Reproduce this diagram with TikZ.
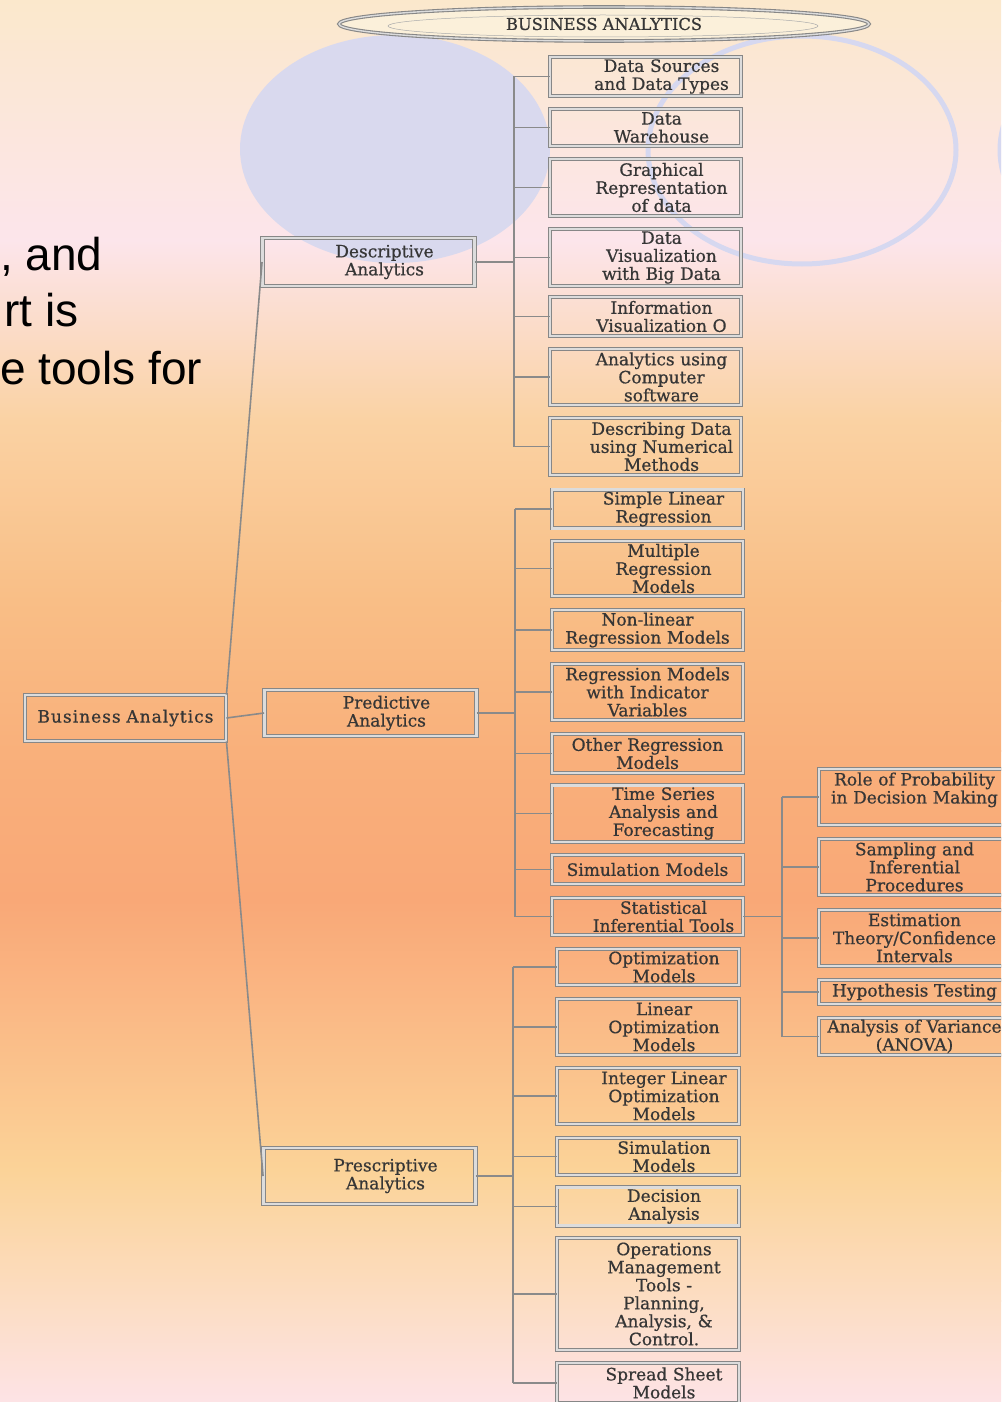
\documentclass[tikz,border=0pt]{standalone}
\usepackage{fontspec}
\setmainfont{DejaVu Serif}[FakeBold=0.7]
\newfontfamily\slidefont{Liberation Sans}
\usetikzlibrary{shapes.geometric}

\definecolor{bg0}{HTML}{FBE8CC}
\definecolor{bg1}{HTML}{FCE5EB}
\definecolor{bg2}{HTML}{FAD2A3}
\definecolor{bg3}{HTML}{F9BE86}
\definecolor{bg4}{HTML}{F9B07B}
\definecolor{bg5}{HTML}{F9A877}
\definecolor{bg6}{HTML}{FAB784}
\definecolor{bg7}{HTML}{FBD398}
\definecolor{bg8}{HTML}{FCDDC3}
\definecolor{bg9}{HTML}{FDE3E6}
\definecolor{lilac}{HTML}{D9D9EE}
\definecolor{lilacline}{HTML}{D6D8F0}
\definecolor{boxline}{HTML}{878787}
\definecolor{boxband}{HTML}{DCDCDC}
\definecolor{inktext}{HTML}{363636}
\definecolor{wiregray}{HTML}{8A8A8A}
\definecolor{titlefill}{HTML}{FBF0DA}

\tikzset{
  box/.style={draw=boxline, line width=0.9pt, double=boxband, double distance=2.4pt,
    inner xsep=2pt, inner ysep=2pt, align=center, text=inktext,
    font=\fontsize{17}{18}\selectfont},
  topbox/.style={box, text width=197pt},
  midbox/.style={box, text width=208pt},
  leafbox/.style={box, text width=187pt},
  leafnarrow/.style={box, text width=178pt},
  shove/.style={execute at begin node={\leftskip=32pt plus 1fill\rightskip=0pt plus 1fill\parfillskip=0pt}},
  link/.style={draw=wiregray, line width=1.6pt},
  slidetext/.style={anchor=base west, inner sep=0pt, font=\slidefont\fontsize{46}{56}\selectfont},
}

\begin{document}
\begin{tikzpicture}[x=1pt, y=-1pt]
  \useasboundingbox (0,0) rectangle (1001,1402);
  \clip (0,0) rectangle (1001,1402);

  %%%%% BACKGROUND %%%%%
  \fill[bg4] (0,0) rectangle (1001,1402);
  \foreach \ya/\ca/\yb/\cb in {0/bg0/240/bg1, 240/bg1/420/bg2, 420/bg2/600/bg3,
      600/bg3/750/bg4, 750/bg4/900/bg5, 900/bg5/1000/bg6, 1000/bg6/1170/bg7,
      1170/bg7/1300/bg8, 1300/bg8/1402/bg9}
    \shade[top color=\ca, bottom color=\cb] (0,\ya) rectangle (1001,\yb+1);

  \fill[lilac] (395,149) ellipse [x radius=155, y radius=114];
  \draw[lilacline, line width=5pt] (802,150) ellipse [x radius=154, y radius=114];
  \draw[lilacline, line width=5pt] (1153,150) ellipse [x radius=153, y radius=114];

  \node[slidetext] (frag1) at (0,270) {, and};
  \node[slidetext] (frag2) at (4,326) {rt is};
  \node[slidetext] (frag3) at (0,384) {e tools for};

  %%%%% TITLE %%%%%
  \node[ellipse, draw=boxline, line width=1.1pt, double=boxband, double distance=1.4pt,
    fill=titlefill, minimum width=530, minimum height=34, inner sep=0pt,
    text=inktext, font=\fontsize{16.3}{18}\selectfont] (title) at (604,24) {BUSINESS ANALYTICS};
  \draw[boxline!70, line width=0.5pt] (603,26) ellipse [x radius=215, y radius=11];

  %%%%% BOXES %%%%%
  \node[topbox, minimum height=46, font=\fontsize{17}{18}\selectfont\addfontfeature{LetterSpace=6}] (ba) at (125.5,718) {Business Analytics};

  \node[midbox, shove, minimum height=48] (desc) at (368.5,262) {Descriptive\\Analytics};
  \node[midbox, shove, minimum height=46] (pred) at (370.5,713) {Predictive\\Analytics};
  \node[midbox, shove, minimum height=56] (presc) at (369.5,1176) {Prescriptive\\Analytics};

  \node[leafbox, shove, minimum height=39] (d1) at (645.5,76.5) {Data Sources\\and Data Types};
  \node[leafbox, shove, minimum height=37] (d2) at (645.5,127.5) {Data\\Warehouse};
  \node[leafbox, shove, minimum height=57] (d3) at (645.5,187.5) {Graphical\\Representation\\of data};
  \node[leafbox, shove, minimum height=57] (d4) at (645.5,257.5) {Data\\Visualization\\with Big Data};
  \node[leafbox, shove, minimum height=39] (d5) at (645.5,316.5) {Information\\Visualization O};
  \node[leafbox, shove, minimum height=56] (d6) at (645.5,377) {Analytics using\\Computer\\software};
  \node[leafbox, shove, minimum height=57] (d7) at (645.5,446.5) {Describing Data\\using Numerical\\Methods};

  \node[leafbox, shove, minimum height=38] (p1) at (647.5,509) {Simple Linear\\Regression};
  \node[leafbox, shove, minimum height=55] (p2) at (647.5,568.5) {Multiple\\Regression\\Models};
  \node[leafbox, minimum height=40] (p3) at (647.5,630) {Non-linear\\Regression Models};
  \node[leafbox, minimum height=56] (p4) at (647.5,692) {Regression Models\\with Indicator\\Variables};
  \node[leafbox, minimum height=39] (p5) at (647.5,753.5) {Other Regression\\Models};
  \node[leafbox, shove, minimum height=55] (p6) at (647.5,813.5) {Time Series\\Analysis and\\Forecasting};
  \node[leafbox, minimum height=29] (p7) at (647.5,869.5) {Simulation Models};
  \node[leafbox, shove, minimum height=37] (p8) at (647.5,916.5) {Statistical\\Inferential Tools};

  \node[leafnarrow, shove, minimum height=36] (r1) at (648,967) {Optimization\\Models};
  \node[leafnarrow, shove, minimum height=56] (r2) at (648,1027) {Linear\\Optimization\\Models};
  \node[leafnarrow, shove, minimum height=56] (r3) at (648,1096) {Integer Linear\\Optimization\\Models};
  \node[leafnarrow, shove, minimum height=37] (r4) at (648,1156.5) {Simulation\\Models};
  \node[leafnarrow, shove, minimum height=37] (r5) at (648,1206.5) {Decision\\Analysis};
  \node[leafnarrow, shove, minimum height=112] (r6) at (648,1294) {Operations\\Management\\Tools -\\Planning,\\Analysis, \&\\Control.};
  \node[leafnarrow, shove, minimum height=40] (r7) at (648,1383) {Spread Sheet\\Models};

  \node[leafbox, minimum height=56] (s1) at (914.5,797) {Role of Probability\\in Decision Making\\~};
  \node[leafbox, minimum height=56] (s2) at (914.5,867) {Sampling and\\Inferential\\Procedures};
  \node[leafbox, minimum height=56] (s3) at (914.5,938) {Estimation\\Theory/Confidence\\Intervals};
  \node[leafbox, minimum height=24] (s4) at (914.5,992) {Hypothesis Testing};
  \node[leafbox, minimum height=37] (s5) at (914.5,1036.5) {Analysis of Variance\\(ANOVA)};

  %%%%% LINKS %%%%%
  \coordinate (dtrunk) at (514,0);
  \coordinate (ptrunk) at (515,0);
  \coordinate (rtrunk) at (513,0);
  \coordinate (strunk) at (782,0);

  \draw[link] (ba.north east) -- (desc.west);
  \draw[link] (ba.east) -- (pred.west);
  \draw[link] (ba.south east) -- (presc.west);

  \draw[link] (desc.east) -- (desc.east -| dtrunk);
  \draw[link] (d1.west -| dtrunk) -- (d7.west -| dtrunk);
  \foreach \n in {d1,d2,d3,d4,d5,d6,d7}
    \draw[link] (\n.west) -- (\n.west -| dtrunk);

  \draw[link] (pred.east) -- (pred.east -| ptrunk);
  \draw[link] (p1.west -| ptrunk) -- (p8.west -| ptrunk);
  \foreach \n in {p1,p2,p3,p4,p5,p6,p7,p8}
    \draw[link] (\n.west) -- (\n.west -| ptrunk);

  \draw[link] (presc.east) -- (presc.east -| rtrunk);
  \draw[link] (r1.west -| rtrunk) -- (r7.west -| rtrunk);
  \foreach \n in {r1,r2,r3,r4,r5,r6,r7}
    \draw[link] (\n.west) -- (\n.west -| rtrunk);

  \draw[link] (p8.east) -- (p8.east -| strunk);
  \draw[link] (s1.west -| strunk) -- (s5.west -| strunk);
  \foreach \n in {s1,s2,s3,s4,s5}
    \draw[link] (\n.west) -- (\n.west -| strunk);
\end{tikzpicture}
\end{document}
